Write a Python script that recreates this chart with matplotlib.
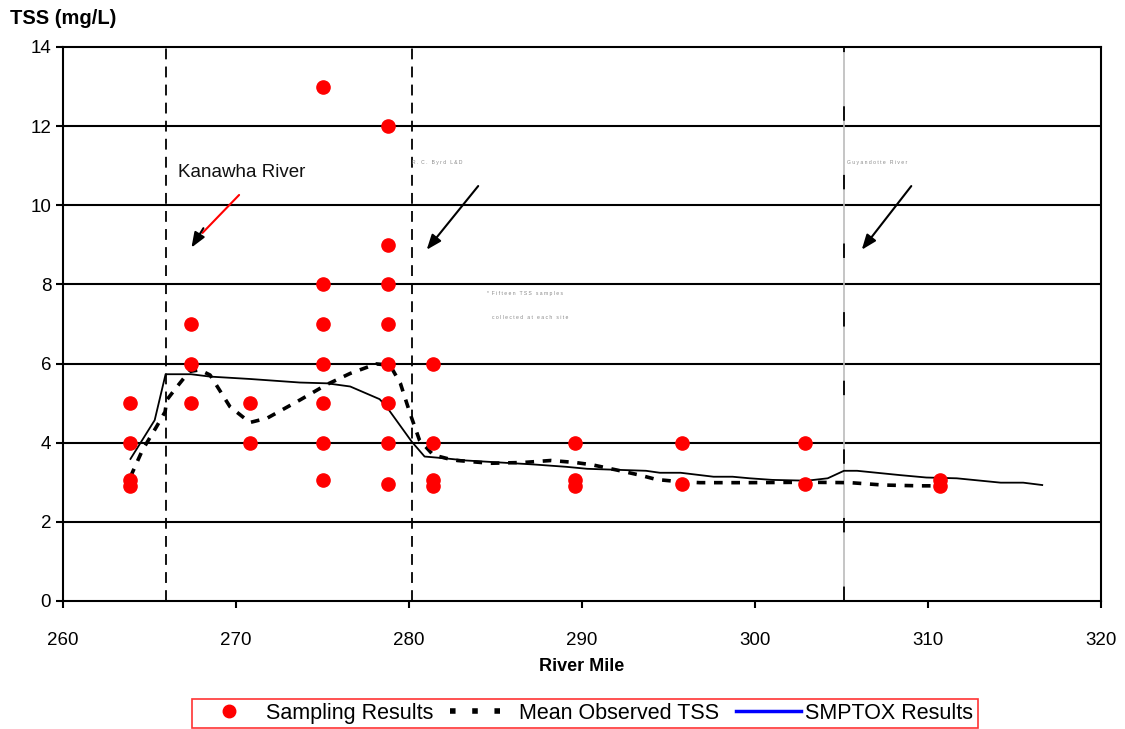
import matplotlib
matplotlib.use("Agg")
import matplotlib.pyplot as plt
from matplotlib.lines import Line2D

plt.rcParams['font.family'] = ['Liberation Sans', 'DejaVu Sans']

# --- Data ---
sample_mile = [263.9, 263.9, 263.9, 263.9,
               267.4, 267.4, 267.4,
               270.8, 270.8,
               275.0, 275.0, 275.0, 275.0, 275.0, 275.0, 275.0,
               278.8, 278.8, 278.8, 278.8, 278.8, 278.8, 278.8, 278.8,
               281.4, 281.4, 281.4, 281.4,
               289.6, 289.6, 289.6,
               295.8, 295.8,
               302.9, 302.9,
               310.7, 310.7]
sample_tss = [5, 4, 3.05, 2.9,
              7, 6, 5,
              5, 4,
              13, 8, 7, 6, 5, 4, 3.05,
              12, 9, 8, 7, 6, 5, 4, 2.95,
              6, 4, 3.05, 2.9,
              4, 3.05, 2.9,
              4, 2.95,
              4, 2.95,
              3.05, 2.9]

mean_mile = [263.9, 264.6, 265.4, 265.9, 266.0, 266.6, 267.3, 267.9, 268.5,
             269.65, 270.8, 271.8, 273.7, 275.2, 276.6, 278.1, 278.9, 279.5,
             280.06, 280.6, 281.4, 282.2, 282.8, 284.7, 286.6, 288.2, 289.6,
             290.6, 292.0, 293.35, 294.3, 295.5, 296.8, 299.7, 303.0, 305.5,
             307.4, 309.5, 310.7]
mean_tss = [3.14, 3.82, 4.4, 4.78, 5.08, 5.42, 5.8, 5.84, 5.71,
            4.91, 4.51, 4.62, 5.08, 5.46, 5.75, 5.99, 5.96, 5.5,
            4.74, 4.07, 3.69, 3.6, 3.55, 3.48, 3.5, 3.55, 3.5,
            3.44, 3.31, 3.18, 3.07, 3.02, 2.99, 2.99, 3.0, 2.99,
            2.93, 2.91, 2.91]

model_mile = [263.9, 265.3, 265.93, 267.4, 268.5, 270.8, 273.7, 275.26, 276.6,
              278.3, 278.7, 280.15, 280.9, 281.96, 283.3, 287.2, 289.1, 290.3,
              293.7, 294.5, 295.7, 297.6, 298.7, 299.7, 301.0, 303.0, 304.2,
              305.14, 305.9, 308.4, 309.9, 311.66, 314.2, 315.5, 316.6]
model_tss = [3.59, 4.57, 5.73, 5.73, 5.67, 5.61, 5.52, 5.5, 5.42,
             5.1, 4.91, 4.03, 3.65, 3.61, 3.55, 3.45, 3.39, 3.34,
             3.29, 3.24, 3.24, 3.14, 3.14, 3.1, 3.06, 3.04, 3.1,
             3.29, 3.29, 3.18, 3.12, 3.1, 2.99, 2.99, 2.93]

kanawha_mile = 265.95
byrd_mile = 280.17
guyandotte_mile = 305.14

# --- Figure ---
fig = plt.figure(figsize=(11.25, 7.29), dpi=100)
ax = fig.add_axes([0.056, 0.1756, 0.9227, 0.76])

ax.set_xlim(260, 320)
ax.set_ylim(0, 14)
ax.set_xticks(range(260, 321, 10))
ax.set_yticks(range(0, 15, 2))
for y in range(2, 14, 2):
    ax.axhline(y, color='black', lw=1.5, zorder=1)
for s in ax.spines.values():
    s.set_linewidth(1.5)
ax.tick_params(axis='both', labelsize=13.5, width=1.5, length=5, direction='out')
ax.tick_params(axis='x', pad=17)

# vertical markers
ax.axvline(kanawha_mile, color='black', lw=1.3, ls=(0, (6, 4)), zorder=2)
ax.axvline(byrd_mile, color='black', lw=1.3, ls=(0, (6, 4)), zorder=2)
ax.axvline(guyandotte_mile, color='#bbbbbb', lw=1.2, zorder=2)
ax.axvline(guyandotte_mile, color='black', lw=1.3, ls=(0, (8, 30)), zorder=2)

# series
ax.plot(model_mile, model_tss, color='black', lw=1.3, zorder=3)
ax.plot(mean_mile, mean_tss, color='black', lw=2.6, ls=(0, (2.4, 2.4)), zorder=3)
ax.plot(sample_mile, sample_tss, 'o', color='red', ms=9.5, mec='red', zorder=4)

# annotations
ax.text(266.65, 10.84, 'Kanawha River', fontsize=13.5, va='center', ha='left',
        color='#111111')
ax.annotate('', xy=(267.95, 9.25), xytext=(270.29, 10.31),
            arrowprops=dict(arrowstyle='-', color='red', lw=1.5))
ax.annotate('', xy=(267.34, 8.87), xytext=(268.2, 9.48),
            arrowprops=dict(arrowstyle='-|>,head_width=0.35,head_length=0.9',
                            color='black', lw=1.5))
for x0, x1 in [(284.10, 280.92), (309.13, 306.07)]:
    ax.annotate('', xy=(x1, 8.82), xytext=(x0, 10.54),
                arrowprops=dict(arrowstyle='-|>,head_width=0.35,head_length=0.9',
                                color='black', lw=1.5))

tiny = dict(fontsize=3.6, color='#888888', va='center', ha='left')
ax.text(280.2, 11.07, 'R .  C .   B y r d   L & D', **tiny)
ax.text(305.3, 11.07, 'G u y a n d o t t e   R i v e r', **tiny)
ax.text(284.5, 7.78, '*  F i f t e e n   T S S   s a m p l e s', **tiny)
ax.text(284.8, 7.17, 'c o l l e c t e d   a t   e a c h   s i t e', **tiny)

ax.set_xlabel('River Mile', fontsize=13, fontweight='bold', labelpad=7)
fig.text(0.009, 0.975, 'TSS (mg/L)', fontsize=14.5, fontweight='bold',
         ha='left', va='center')

handles = [
    Line2D([], [], ls='none', marker='o', color='red', ms=9),
    Line2D([], [], color='black', lw=4, ls=(0, (1, 3))),
    Line2D([], [], color='blue', lw=2.5),
]
leg = fig.legend(handles, ['Sampling Results', 'Mean Observed TSS', 'SMPTOX Results'],
                 loc='center', bbox_to_anchor=(0.52, 0.0215), ncol=3,
                 fontsize=15.5, frameon=True, fancybox=False, handlelength=3,
                 handletextpad=0.2, columnspacing=0.8, borderpad=0.2)
leg.get_frame().set_edgecolor('red')
leg.get_frame().set_linewidth(1.2)

fig.savefig('out.png', dpi=100)
